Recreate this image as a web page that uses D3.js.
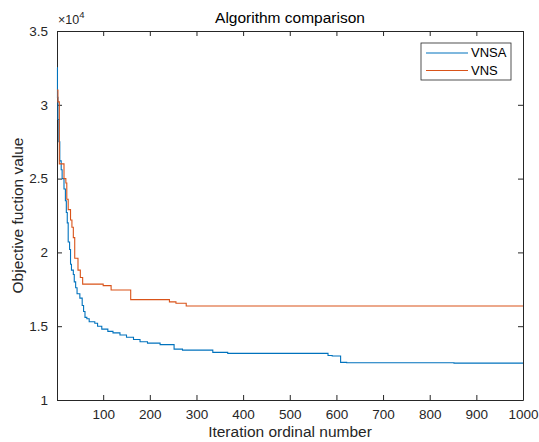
<!DOCTYPE html>
<html>
<head>
<meta charset="utf-8">
<script src="https://cdn.jsdelivr.net/npm/d3@7"></script>
<style>
  body { margin: 0; background: #fff; }
  svg { font-family: "Liberation Sans", Arial, sans-serif; }
</style>
</head>
<body>
<svg width="539" height="442"></svg>
<script>
// iteration, objective value (x 10^4), drawn as steps
var vnsa = [
  [1, 3.25], [2, 3.05], [3, 2.9], [5, 2.75], [7, 2.62], [10, 2.56], [12, 2.5],
  [16, 2.43], [19, 2.35], [21, 2.27], [23, 2.2], [25, 2.07], [28, 2.02],
  [30, 1.92], [32, 1.88], [36, 1.85], [38, 1.8], [41, 1.76], [44, 1.72],
  [50, 1.69], [55, 1.64], [58, 1.6], [61, 1.56], [65, 1.55], [70, 1.53],
  [82, 1.52], [88, 1.5], [97, 1.48], [110, 1.465], [121, 1.455], [136, 1.44],
  [150, 1.425], [165, 1.41], [179, 1.395], [195, 1.385], [222, 1.375],
  [252, 1.345], [270, 1.338], [335, 1.323], [367, 1.316], [582, 1.302],
  [591, 1.298], [609, 1.255], [622, 1.252], [852, 1.25], [1000, 1.25]
];
var vns = [
  [1, 3.1], [3, 3.02], [6, 2.6], [16, 2.5], [20, 2.47], [22, 2.36], [25, 2.29],
  [30, 2.22], [33, 2.17], [36, 2.1], [39, 1.96], [46, 1.88], [51, 1.83],
  [56, 1.785], [100, 1.775], [117, 1.745], [159, 1.68], [242, 1.665],
  [256, 1.655], [278, 1.637], [1000, 1.637]
];
var xTicks = [100, 200, 300, 400, 500, 600, 700, 800, 900, 1000];
var yTicks = [1, 1.5, 2, 2.5, 3, 3.5];
var seriesNames = ["VNSA", "VNS"];
var seriesColors = ["#0072BD", "#D95319"];

var svg = d3.select("svg"),
    plotL = 57, plotR = 523, plotT = 31, plotB = 400,
    axisColor = "#262626";

var x = d3.scaleLinear().domain([1, 1000]).range([plotL, plotR]);
var y = d3.scaleLinear().domain([1, 3.5]).range([plotB, plotT]);

var fmt = function(d) { return d3.format("~g")(d); };

// axes: ticks point inwards on all four sides
svg.append("g")
    .attr("transform", "translate(0," + plotB + ")")
    .call(d3.axisBottom(x).tickValues(xTicks).tickSizeInner(-5).tickSizeOuter(0).tickPadding(9).tickFormat(fmt));
svg.append("g")
    .attr("transform", "translate(0," + plotT + ")")
    .call(d3.axisTop(x).tickValues(xTicks).tickSizeInner(-5).tickSizeOuter(0).tickFormat(""));
svg.append("g")
    .attr("transform", "translate(" + plotL + ",0)")
    .call(d3.axisLeft(y).tickValues(yTicks).tickSizeInner(-5).tickSizeOuter(0).tickPadding(9).tickFormat(fmt));
svg.append("g")
    .attr("transform", "translate(" + plotR + ",0)")
    .call(d3.axisRight(y).tickValues(yTicks).tickSizeInner(-5).tickSizeOuter(0).tickFormat(""));

svg.selectAll(".domain").attr("stroke", axisColor);
svg.selectAll(".tick line").attr("stroke", axisColor);
svg.selectAll(".tick text")
    .attr("fill", axisColor)
    .attr("font-size", 13.5)
    .attr("font-family", "Liberation Sans, Arial, sans-serif");

// lines
var line = d3.line()
    .curve(d3.curveStepAfter)
    .x(function(d) { return x(d[0]); })
    .y(function(d) { return y(d[1]); });

[vnsa, vns].forEach(function(s, i) {
  svg.append("path")
      .datum(s)
      .attr("fill", "none")
      .attr("stroke", seriesColors[i])
      .attr("stroke-width", 1.1)
      .attr("d", line);
});

// multiplier
var mult = svg.append("text")
    .attr("x", plotL + 1)
    .attr("y", 24)
    .attr("font-size", 12.5)
    .attr("fill", axisColor);
mult.append("tspan").text("\u00d710");
mult.append("tspan").attr("dy", -6).attr("font-size", 9.5).text("4");

// title and labels
svg.append("text")
    .attr("x", (plotL + plotR) / 2)
    .attr("y", 23)
    .attr("text-anchor", "middle")
    .attr("font-size", 15.5)
    .attr("fill", "#000")
    .text("Algorithm comparison");

svg.append("text")
    .attr("x", (plotL + plotR) / 2)
    .attr("y", 437)
    .attr("text-anchor", "middle")
    .attr("font-size", 15.5)
    .attr("fill", axisColor)
    .text("Iteration ordinal number");

svg.append("text")
    .attr("transform", "translate(23," + (plotT + plotB) / 2 + ") rotate(-90)")
    .attr("text-anchor", "middle")
    .attr("font-size", 15.5)
    .attr("fill", axisColor)
    .text("Objective fuction value");

// legend
var lg = svg.append("g").attr("transform", "translate(421,43)");
lg.append("rect")
    .attr("width", 90).attr("height", 37)
    .attr("fill", "#fff")
    .attr("stroke", axisColor)
    .attr("stroke-width", 0.8);
seriesNames.forEach(function(name, i) {
  var yy = 10 + i * 17.5;
  lg.append("line")
      .attr("x1", 5).attr("x2", 47)
      .attr("y1", yy).attr("y2", yy)
      .attr("stroke", seriesColors[i])
      .attr("stroke-width", 1.1);
  lg.append("text")
      .attr("x", 50).attr("y", yy + 4)
      .attr("font-size", 13)
      .attr("fill", "#000")
      .text(name);
});
</script>
</body>
</html>
